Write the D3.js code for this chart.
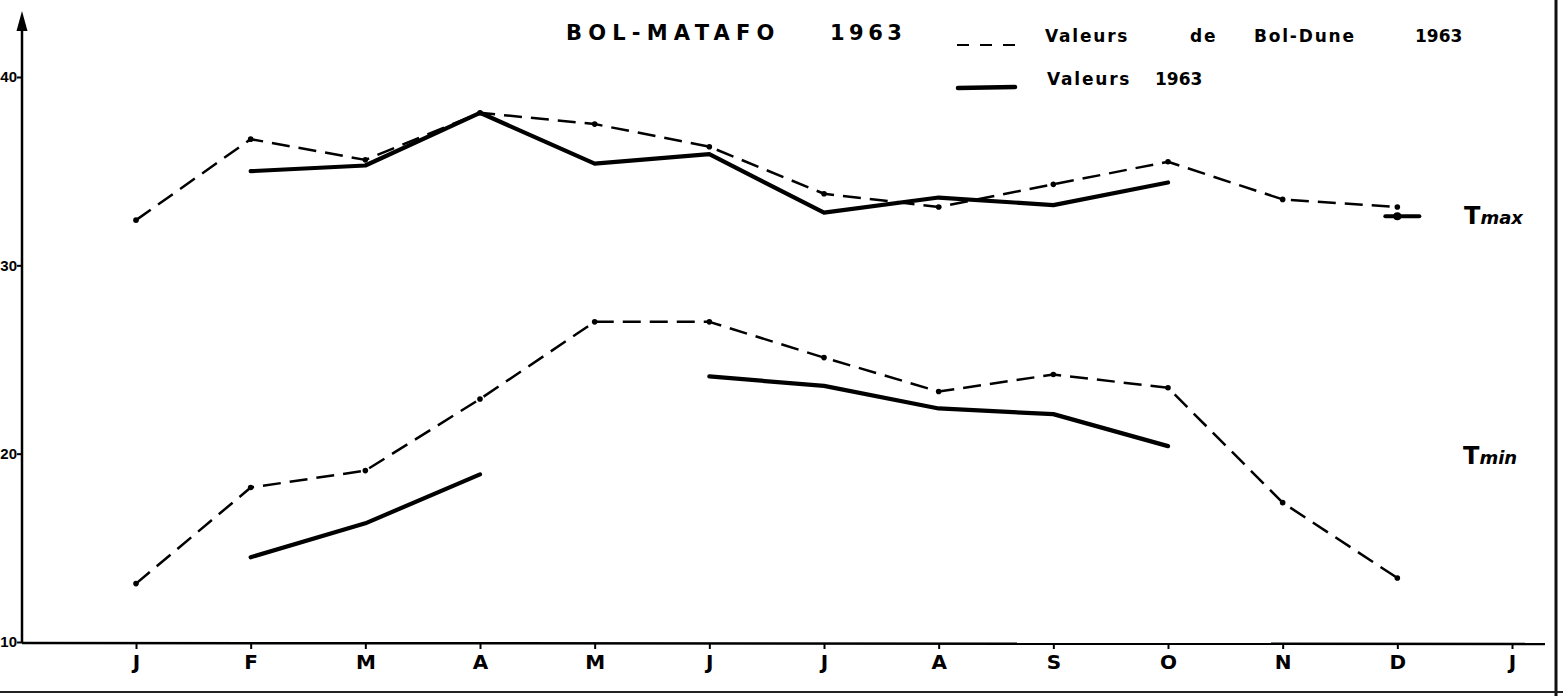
<!DOCTYPE html>
<html>
<head>
<meta charset="utf-8">
<script src="https://cdn.jsdelivr.net/npm/d3@7"></script>
<style>
  html, body { margin: 0; padding: 0; background: #fff; }
  svg { display: block; }
</style>
</head>
<body>
<svg id="chart" width="1563" height="696"></svg>
<script>
// ---- data ----
const months = ["J","F","M","A","M","J","J","A","S","O","N","D","J"];
const yTicks = [10, 20, 30, 40];
// Tmax, Bol-Dune 1963 (dashed)
const tmaxBolDune = [32.4, 36.7, 35.6, 38.1, 37.5, 36.3, 33.8, 33.1, 34.3, 35.5, 33.5, 33.1];
// Tmax, Bol-Matafo 1963 (solid)
const tmax1963 = [null, 35.0, 35.3, 38.1, 35.4, 35.9, 32.8, 33.6, 33.2, 34.4, null, 32.6];
// Tmin, Bol-Dune 1963 (dashed)
const tminBolDune = [13.1, 18.2, 19.1, 22.9, 27.0, 27.0, 25.1, 23.3, 24.2, 23.5, 17.4, 13.4];
// Tmin, Bol-Matafo 1963 (solid)
const tmin1963 = [null, 14.5, 16.3, 18.9, null, 24.1, 23.6, 22.4, 22.1, 20.4, null, null];

const svg = d3.select("#chart");
const ink = "#000";
const FONT = "'DejaVu Sans', 'Liberation Sans', sans-serif";

const x = d3.scaleLinear().domain([0, 12]).range([136, 1512]);
const y = d3.scaleLinear().domain([10, 40]).range([642, 77]);
const axisX0 = 22, axisY0 = y(10);

// scan frame
svg.append("line").attr("x1", 1556).attr("x2", 1556).attr("y1", 0).attr("y2", 696)
  .attr("stroke", "#111").attr("stroke-width", 3);
svg.append("line").attr("x1", 0).attr("x2", 1563).attr("y1", 692).attr("y2", 692)
  .attr("stroke", "#222").attr("stroke-width", 2);

// ---- Y axis ----
const yAxis = d3.axisLeft(y).tickValues(yTicks).tickSize(5).tickPadding(0).tickFormat(d3.format("d"));
const gy = svg.append("g").attr("transform", `translate(${axisX0},0)`).call(yAxis);
gy.select(".domain").remove();
gy.selectAll(".tick line").attr("stroke", ink).attr("stroke-width", 2);
gy.selectAll(".tick text").attr("fill", ink).attr("font-family", "'Liberation Sans', Arial, sans-serif")
  .attr("font-weight", "bold").attr("font-size", 15);
svg.append("line").attr("x1", axisX0).attr("x2", axisX0).attr("y1", axisY0 + 1).attr("y2", 26)
  .attr("stroke", ink).attr("stroke-width", 2.5);
svg.append("path").attr("d", `M${axisX0},11 L${axisX0 - 5.5},31 L${axisX0 + 5.5},31 Z`).attr("fill", ink);

// ---- X axis ----
svg.append("line").attr("x1", axisX0).attr("x2", 1545).attr("y1", axisY0 + 1).attr("y2", axisY0 + 2)
  .attr("stroke", ink).attr("stroke-width", 2.5);
const xAxis = d3.axisBottom(x).tickValues(d3.range(13)).tickSize(6).tickPadding(6)
  .tickFormat(i => months[i]);
const gx = svg.append("g").attr("transform", `translate(0,${axisY0 + 1})`).call(xAxis);
gx.select(".domain").remove();
gx.selectAll(".tick line").attr("stroke", ink).attr("stroke-width", 2);
gx.selectAll(".tick text").attr("fill", ink).attr("font-family", FONT)
  .attr("font-weight", "bold").attr("font-size", 20);

// ---- series ----
const line = d3.line().defined(d => d != null).x((d, i) => x(i)).y(d => y(d));

function dashed(data) {
  svg.append("path").datum(data).attr("d", line).attr("fill", "none")
    .attr("stroke", ink).attr("stroke-width", 2.5).attr("stroke-dasharray", "18,9")
    .attr("stroke-linejoin", "round");
  svg.append("g").selectAll("circle").data(data.map((v, i) => [v, i]).filter(d => d[0] != null))
    .join("circle").attr("cx", d => x(d[1])).attr("cy", d => y(d[0])).attr("r", 2.8).attr("fill", ink);
}
function solid(data) {
  svg.append("path").datum(data).attr("d", line).attr("fill", "none")
    .attr("stroke", ink).attr("stroke-width", 4.2).attr("stroke-linejoin", "round")
    .attr("stroke-linecap", "round");
  // isolated values drawn as a short bar
  const iso = data.map((v, i) => [v, i]).filter(d => d[0] != null &&
    (d[1] === 0 || data[d[1] - 1] == null) && (d[1] === data.length - 1 || data[d[1] + 1] == null));
  svg.append("g").selectAll("line").data(iso).join("line")
    .attr("x1", d => x(d[1]) - 12).attr("x2", d => x(d[1]) + 22)
    .attr("y1", d => y(d[0])).attr("y2", d => y(d[0]))
    .attr("stroke", ink).attr("stroke-width", 4).attr("stroke-linecap", "round");
  svg.append("g").selectAll("circle").data(iso).join("circle")
    .attr("cx", d => x(d[1])).attr("cy", d => y(d[0])).attr("r", 4).attr("fill", ink);
}
dashed(tmaxBolDune);
solid(tmax1963);
dashed(tminBolDune);
solid(tmin1963);

// ---- title and legend ----
svg.append("text").attr("x", 566).attr("y", 40).attr("font-family", FONT).attr("font-weight", "bold")
  .attr("font-size", 21).attr("letter-spacing", 6.2).attr("fill", ink).text("BOL-MATAFO");
svg.append("text").attr("x", 830).attr("y", 40).attr("font-family", FONT).attr("font-weight", "bold")
  .attr("font-size", 21).attr("letter-spacing", 4.5).attr("fill", ink).text("1963");

svg.append("line").attr("x1", 957).attr("x2", 1015).attr("y1", 45).attr("y2", 45)
  .attr("stroke", ink).attr("stroke-width", 2.2).attr("stroke-dasharray", "12,11");
svg.append("line").attr("x1", 958).attr("x2", 1015).attr("y1", 88).attr("y2", 87)
  .attr("stroke", ink).attr("stroke-width", 4.5).attr("stroke-linecap", "round");

const leg1 = [["Valeurs", 1045, 1.8], ["de", 1190, 1.8], ["Bol-Dune", 1254, 1.8], ["1963", 1415, 0]];
svg.append("g").selectAll("text").data(leg1).join("text")
  .attr("x", d => d[1]).attr("y", 42).attr("font-family", FONT).attr("font-weight", "bold")
  .attr("font-size", 17).attr("letter-spacing", d => d[2]).attr("fill", ink).text(d => d[0]);
const leg2 = [["Valeurs", 1047, 1.8], ["1963", 1155, 0]];
svg.append("g").selectAll("text").data(leg2).join("text")
  .attr("x", d => d[1]).attr("y", 85).attr("font-family", FONT).attr("font-weight", "bold")
  .attr("font-size", 17).attr("letter-spacing", d => d[2]).attr("fill", ink).text(d => d[0]);

// series labels
function tLabel(sub, xp, yp) {
  const t = svg.append("text").attr("x", xp).attr("y", yp).attr("font-family", FONT)
    .attr("font-weight", "bold").attr("fill", ink);
  t.append("tspan").attr("font-size", 24).text("T");
  t.append("tspan").attr("font-size", 18).attr("font-style", "italic").text(sub);
}
tLabel("max", 1464, 224);
tLabel("min", 1463, 464);
</script>
</body>
</html>
